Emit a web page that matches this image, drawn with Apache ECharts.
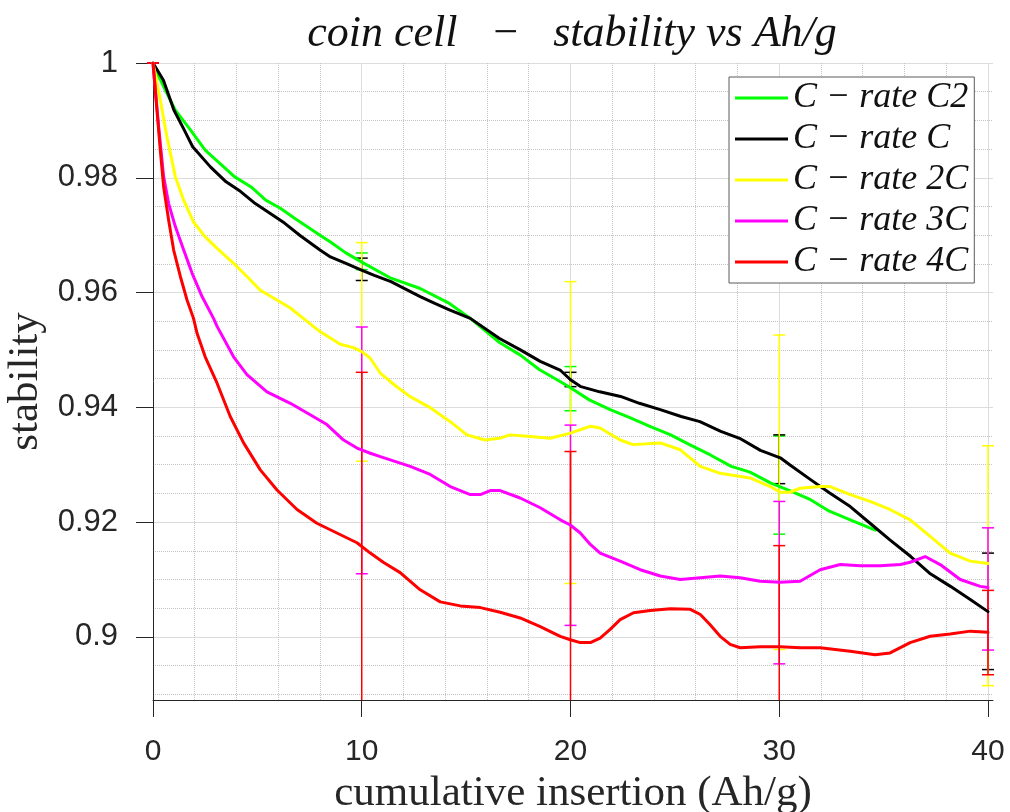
<!DOCTYPE html>
<html><head><meta charset="utf-8">
<script src="https://cdn.jsdelivr.net/npm/echarts@6/dist/echarts.min.js"></script>
<style>html,body{margin:0;padding:0;background:#fff}#c{width:1010px;height:812px}</style>
</head><body><div id="c"></div>
<script>
const xTicks = [0, 10, 20, 30, 40];
const yTicks = [0.9, 0.92, 0.94, 0.96, 0.98, 1];
const seriesNames = ['C − rate C2', 'C − rate C', 'C − rate 2C', 'C − rate 3C', 'C − rate 4C'];
const seriesColors = ['#00ff00', '#000000', '#ffff00', '#ff00ff', '#ff0000'];

const rateC2 = [[0,1.0],[0.3,0.9975],[0.6,0.9952],[1.07,0.9918],[1.8,0.9883],[2.5,0.9848],[3.2,0.9825],[3.9,0.9802],[4.7,0.9784],[5.4,0.9761],[6.1,0.9747],[6.8,0.9729],[7.5,0.9712],[8.0,0.9700],[8.5,0.9688],[9.2,0.9670],[10,0.9653],[11.4,0.9625],[12.8,0.9607],[14.2,0.9581],[15.2,0.9555],[16.6,0.9513],[17.6,0.9491],[18.5,0.9466],[19.5,0.9445],[20.0,0.9434],[20.9,0.9413],[21.9,0.9396],[22.9,0.9381],[23.8,0.9367],[24.8,0.9352],[25.7,0.9335],[26.7,0.9317],[27.7,0.9297],[28.6,0.9287],[29.6,0.9268],[30.5,0.9255],[31.5,0.9239],[32.4,0.9219],[33.4,0.9204],[34.6,0.9186]];
const rateC = [[0,1.0],[0.5,0.9970],[1.0,0.9918],[1.5,0.9883],[1.9,0.9854],[2.75,0.9819],[3.5,0.9793],[4.2,0.9776],[4.9,0.9755],[5.6,0.9738],[6.3,0.9721],[7.06,0.9699],[8.0,0.9674],[8.5,0.9662],[9.3,0.9650],[9.93,0.9640],[10.6,0.9630],[11.4,0.9619],[12.1,0.9606],[12.8,0.9593],[13.5,0.9581],[14.2,0.9570],[15.2,0.9555],[16.6,0.9520],[17.6,0.9500],[18.55,0.9480],[19.5,0.9465],[20.0,0.9448],[20.5,0.9436],[21.4,0.9427],[22.4,0.9419],[23.3,0.9407],[24.3,0.9396],[25.3,0.9384],[26.2,0.9375],[27.2,0.9358],[28.1,0.9346],[29.1,0.9325],[30.05,0.9312],[30.5,0.9300],[31.5,0.9274],[32.4,0.9251],[33.4,0.9227],[34.35,0.9198],[35.3,0.9169],[36.3,0.9140],[37.2,0.9111],[38.2,0.9088],[39.15,0.9065],[40,0.9044]];
const rate2C = [[0,1.0],[0.35,0.9935],[0.67,0.9871],[1.07,0.9802],[1.47,0.9761],[1.94,0.9723],[2.5,0.9697],[3.07,0.9677],[3.86,0.9651],[4.5,0.9628],[5.14,0.9604],[5.94,0.9587],[6.58,0.9573],[7.2,0.9555],[8.0,0.9532],[8.97,0.9510],[9.6,0.9504],[10.0,0.9497],[10.4,0.9486],[10.9,0.9459],[11.6,0.9438],[12.3,0.9419],[13.3,0.9399],[14.24,0.9375],[15.04,0.9352],[15.9,0.9343],[16.6,0.9346],[17.1,0.9352],[18.07,0.9349],[19.03,0.9346],[20.0,0.9355],[20.95,0.9367],[21.42,0.9364],[22.38,0.9343],[23.0,0.9335],[24.3,0.9338],[25.26,0.9326],[26.22,0.9297],[27.17,0.9285],[28.6,0.9277],[29.57,0.9262],[30.05,0.9252],[30.5,0.9252],[31.0,0.9259],[31.97,0.9262],[32.44,0.9262],[33.4,0.9248],[34.35,0.9236],[35.3,0.9222],[36.27,0.9204],[37.23,0.9175],[38.19,0.9146],[39.15,0.9132],[40,0.9128]];
const rate3C = [[0,1.0],[0.27,0.9889],[0.51,0.9802],[0.75,0.9755],[1.07,0.9715],[1.47,0.9674],[1.87,0.9634],[2.35,0.9593],[2.9,0.9555],[3.07,0.9541],[3.86,0.9488],[4.5,0.9457],[5.46,0.9427],[6.58,0.9407],[7.53,0.9387],[8.33,0.9370],[9.13,0.9343],[9.77,0.9329],[10.41,0.9320],[10.89,0.9314],[12.32,0.9297],[13.28,0.9283],[14.24,0.9262],[15.2,0.9248],[15.68,0.9248],[16.16,0.9255],[16.63,0.9255],[17.59,0.9242],[18.55,0.9225],[19.51,0.9204],[19.99,0.9195],[20.47,0.9181],[20.95,0.9161],[21.42,0.9146],[22.38,0.9132],[23.34,0.9117],[24.3,0.9106],[25.26,0.9100],[26.22,0.9103],[27.17,0.9106],[28.13,0.9103],[29.09,0.9097],[30.05,0.9095],[31.0,0.9097],[31.96,0.9117],[32.92,0.9126],[33.88,0.9124],[34.84,0.9124],[35.8,0.9126],[36.27,0.9130],[36.99,0.9140],[37.71,0.9126],[38.67,0.9100],[39.63,0.9088],[40,0.9086]];
const rate4C = [[0,1.0],[0.19,0.9918],[0.35,0.9848],[0.51,0.9784],[0.75,0.9726],[0.99,0.9674],[1.31,0.9628],[1.63,0.9587],[1.94,0.9555],[2.11,0.9529],[2.5,0.9488],[3.07,0.9442],[3.7,0.9384],[4.34,0.9338],[5.14,0.9291],[5.94,0.9256],[6.9,0.9222],[7.85,0.9198],[8.81,0.9181],[9.77,0.9164],[10.41,0.9146],[11.03,0.9130],[11.84,0.9112],[12.8,0.9082],[13.76,0.9061],[14.72,0.9054],[15.68,0.9051],[16.63,0.9043],[17.59,0.9033],[18.55,0.9018],[19.51,0.9001],[19.99,0.8995],[20.47,0.8990],[20.95,0.8990],[21.42,0.8998],[21.9,0.9013],[22.38,0.9030],[23.02,0.9042],[23.82,0.9046],[24.78,0.9049],[25.74,0.9048],[26.22,0.9039],[26.69,0.9021],[27.17,0.9001],[27.65,0.8987],[28.13,0.8981],[29.09,0.8983],[30.05,0.8983],[31.0,0.8981],[31.96,0.8981],[33.4,0.8975],[34.59,0.8969],[35.31,0.8972],[36.27,0.8990],[37.23,0.9001],[38.19,0.9005],[39.15,0.9010],[40,0.9008]];

// error bars: [x, low, high]
const errC2 = [[0,1,1],[10,0.9640,0.9669],[20,0.9394,0.9471],[30,0.9179,0.9350]];
const errC  = [[0,1,1],[10,0.9621,0.9660],[20,0.9436,0.9461],[30,0.9267,0.9352],[40,0.8943,0.9146]];
const err2C = [[0,1,1],[10,0.9306,0.9687],[20,0.9093,0.9619],[30,0.8978,0.9526],[40,0.8915,0.9333]];
const err3C = [[0,1,1],[10,0.9110,0.9540],[20,0.9020,0.9369],[30,0.8953,0.9236],[40,0.8977,0.9190]];
const err4C = [[0,1,1],[10,0.8849,0.9461],[20,0.8667,0.9323],[30,0.8807,0.9159],[40,0.8934,0.9081]];

const lineData = [rateC2, rateC, rate2C, rate3C, rate4C];
const errData = [errC2, errC, err2C, err3C, err4C];

function makeErrRender(color) {
  return function (params, api) {
    const x = api.value(0), lo = api.value(1), hi = api.value(2);
    const pLo = api.coord([x, lo]), pHi = api.coord([x, hi]);
    const cs = params.coordSys;
    const yTop = cs.y, yBot = cs.y + cs.height;
    const px = pLo[0];
    const y1 = Math.max(pHi[1], yTop), y2 = Math.min(pLo[1], yBot);
    const st = { stroke: color, lineWidth: 1.5 };
    const ch = [];
    if (y2 > y1) ch.push({ type: 'line', shape: { x1: px, y1: y1, x2: px, y2: y2 }, style: st });
    const w = 6;
    [pHi[1], pLo[1]].forEach(function (cy) {
      if (cy >= yTop - 1 && cy <= yBot + 1) ch.push({ type: 'line', shape: { x1: px - w, y1: cy, x2: px + w, y2: cy }, style: st });
    });
    return { type: 'group', children: ch };
  };
}

const series = [];
for (let i = 0; i < 5; i++) {
  series.push({
    type: 'line', name: seriesNames[i], data: lineData[i],
    showSymbol: false, symbol: 'none', smooth: false,
    lineStyle: { color: seriesColors[i], width: 3, join: 'round', cap: 'round' },
    itemStyle: { color: seriesColors[i] },
    z: 2, animation: false, silent: true
  });
  series.push({
    type: 'custom', name: 'err' + i, data: errData[i],
    renderItem: makeErrRender(seriesColors[i]),
    encode: { x: 0, y: 1 }, z: 2, silent: true, animation: false
  });
}

const chart = echarts.init(document.getElementById('c'), null, { renderer: 'canvas' });
chart.setOption({
  animation: false,
  backgroundColor: '#ffffff',
  title: {
    text: 'coin cell   −   stability vs Ah/g',
    left: 572, top: 12, textAlign: 'center', padding: 0,
    textStyle: { fontFamily: 'Liberation Serif', fontStyle: 'italic', fontWeight: 'normal', fontSize: 44, color: '#111111' }
  },
  legend: {
    data: seriesNames, orient: 'vertical', left: 729, top: 77,
    padding: [3, 6, 3, 6], itemWidth: 53, itemHeight: 3, itemGap: 5, icon: 'rect',
    borderColor: '#5a5a5a', borderWidth: 1, backgroundColor: '#ffffff', selectedMode: false,
    textStyle: { fontFamily: 'Liberation Serif', fontStyle: 'italic', fontSize: 36, color: '#111111' }
  },
  grid: { left: 153, top: 63, right: 17, bottom: 112, outerBoundsMode: 'none', containLabel: false },
  xAxis: {
    type: 'value', min: 0, max: 40.24, interval: 10,
    axisLine: { show: true, onZero: false, lineStyle: { color: '#262626', width: 1 } },
    axisTick: { show: true, inside: false, length: 17, customValues: xTicks, lineStyle: { color: '#262626', width: 1 } },
    axisLabel: { customValues: xTicks, margin: 37, fontFamily: 'Liberation Sans', fontSize: 30, color: '#262626' },
    splitLine: { show: true, lineStyle: { color: '#dcdcdc', width: 1 } },
    minorTick: { show: false, splitNumber: 5 },
    minorSplitLine: { show: true, lineStyle: { color: '#c4c4c4', type: 'dotted', width: 1 } },
    name: 'cumulative insertion (Ah/g)', nameLocation: 'middle', nameGap: 66,
    nameTextStyle: { fontFamily: 'Liberation Serif', fontSize: 43, color: '#262626' }
  },
  yAxis: {
    type: 'value', min: 0.889, max: 1,
    axisLine: { show: true, onZero: false, lineStyle: { color: '#262626', width: 1 } },
    axisTick: { show: true, inside: false, length: 17, customValues: yTicks, lineStyle: { color: '#262626', width: 1 } },
    axisLabel: { customValues: yTicks, margin: 35, fontFamily: 'Liberation Sans', fontSize: 31, color: '#262626' },
    splitLine: { show: true, lineStyle: { color: '#dcdcdc', width: 1 } },
    minorTick: { show: false, splitNumber: 4 },
    minorSplitLine: { show: true, lineStyle: { color: '#c4c4c4', type: 'dotted', width: 1 } },
    name: 'stability', nameLocation: 'middle', nameGap: 85,
    nameTextStyle: { fontFamily: 'Liberation Serif', fontSize: 43, color: '#262626' }
  },
  series: series
});
</script>
</body></html>
